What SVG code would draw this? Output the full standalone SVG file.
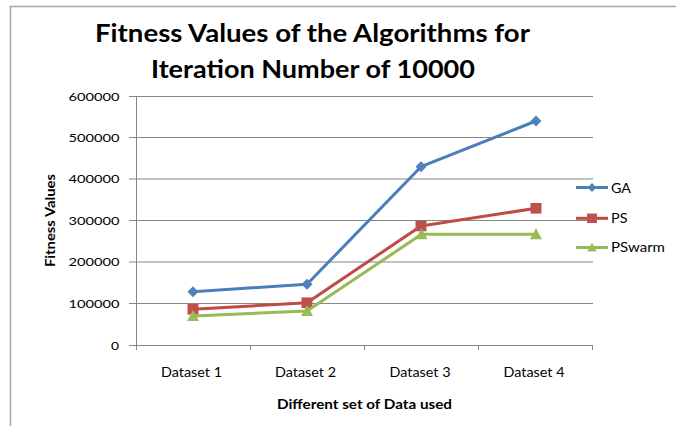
<svg xmlns="http://www.w3.org/2000/svg" width="676" height="426" viewBox="0 0 676 426">
  <style>
    text { font-family: Lato, "Open Sans", "Liberation Sans", sans-serif; fill: #000; }
    .title { font-size: 24px; font-weight: bold; }
    .tick { font-size: 12px; }
    .cat { font-size: 13px; }
    .axis-title { font-size: 13px; font-weight: bold; }
    .leg { font-size: 13px; }
    .grid { stroke: #868686; stroke-width: 1; fill: none; }
    .axis { stroke: #868686; stroke-width: 1; fill: none; }
    .frame { stroke: #a6a6a6; stroke-width: 1.5; fill: none; }
    .ga { stroke: #4a7ebb; stroke-width: 3; fill: none; stroke-linejoin: round; }
    .ps { stroke: #be4b48; stroke-width: 3; fill: none; stroke-linejoin: round; }
    .pw { stroke: #98b954; stroke-width: 3; fill: none; stroke-linejoin: round; }
  </style>
  <defs>
    <path id="diamond" d="M0,-5.5 L5.5,0 L0,5.5 L-5.5,0 Z" fill="#4f81bd"/>
    <rect id="square" x="-5.5" y="-5.3" width="11" height="10.6" fill="#c0504d"/>
    <path id="tri" d="M0,-6 L6,5 L-6,5 Z" fill="#9bbb59"/>
  </defs>

  <rect width="676" height="426" fill="#fff"/>

  <!-- chart frame (left and top edges) -->
  <path class="frame" d="M10.5,426 V6.5 H676"/>

  <!-- title -->
  <g id="title">
    <text class="title" x="95" y="41.5" textLength="435" lengthAdjust="spacingAndGlyphs">Fitness Values of the Algorithms for</text>
    <text class="title" x="151" y="77.5" textLength="324" lengthAdjust="spacingAndGlyphs">Iteration Number of 10000</text>
  </g>

  <!-- gridlines -->
  <g id="gridlines">
    <path class="grid" d="M136,96.5 H593 M136,137.5 H593 M136,179 H593 M136,220.5 H593 M136,262 H593 M136,303.5 H593"/>
  </g>

  <!-- axes and ticks -->
  <g id="axes">
    <path class="axis" d="M136.5,96 V350 M136,345.5 H593"/>
    <path class="axis" d="M129,96.5 H136 M129,137.5 H136 M129,179 H136 M129,220.5 H136 M129,262 H136 M129,303.5 H136 M129,345.5 H136"/>
    <path class="axis" d="M250.5,345 V350 M364.5,345 V350 M478.5,345 V350 M592.5,345 V350"/>
  </g>

  <!-- value axis labels -->
  <g id="y-labels" class="tick">
    <text class="tick" x="68.5" y="100.5" textLength="51" lengthAdjust="spacingAndGlyphs">600000</text>
    <text class="tick" x="68.5" y="141.8" textLength="51" lengthAdjust="spacingAndGlyphs">500000</text>
    <text class="tick" x="68.5" y="183.3" textLength="51" lengthAdjust="spacingAndGlyphs">400000</text>
    <text class="tick" x="68.5" y="224.8" textLength="51" lengthAdjust="spacingAndGlyphs">300000</text>
    <text class="tick" x="68.5" y="266.3" textLength="51" lengthAdjust="spacingAndGlyphs">200000</text>
    <text class="tick" x="68.5" y="307.8" textLength="51" lengthAdjust="spacingAndGlyphs">100000</text>
    <text class="tick" x="111" y="349.5" textLength="8" lengthAdjust="spacingAndGlyphs">0</text>
  </g>

  <!-- category axis labels -->
  <g id="x-labels">
    <text class="cat" x="161" y="376.5" textLength="61" lengthAdjust="spacingAndGlyphs">Dataset 1</text>
    <text class="cat" x="275" y="376.5" textLength="61" lengthAdjust="spacingAndGlyphs">Dataset 2</text>
    <text class="cat" x="389.5" y="376.5" textLength="61" lengthAdjust="spacingAndGlyphs">Dataset 3</text>
    <text class="cat" x="503.5" y="376.5" textLength="61" lengthAdjust="spacingAndGlyphs">Dataset 4</text>
  </g>

  <!-- axis titles -->
  <g id="axis-titles">
    <text class="axis-title" x="277" y="408.5" textLength="175" lengthAdjust="spacingAndGlyphs">Different set of Data used</text>
    <text class="axis-title" transform="translate(54.5,267) rotate(-90)" x="0" y="0" textLength="93" lengthAdjust="spacingAndGlyphs">Fitness Values</text>
  </g>

  <!-- data series -->
  <g id="series-ga">
    <polyline class="ga" points="193,291.7 307,284.3 421,166.7 536,121"/>
    <use href="#diamond" x="193" y="291.7"/>
    <use href="#diamond" x="307" y="284.3"/>
    <use href="#diamond" x="421" y="166.7"/>
    <use href="#diamond" x="536" y="121"/>
  </g>
  <g id="series-ps">
    <polyline class="ps" points="193,309.3 307,302.7 421,226 536,208.3"/>
    <use href="#square" x="193" y="309.3"/>
    <use href="#square" x="307" y="302.7"/>
    <use href="#square" x="421" y="226"/>
    <use href="#square" x="536" y="208.3"/>
  </g>
  <g id="series-pswarm">
    <polyline class="pw" points="193,316 307,311 421.5,234.3 536,234.3"/>
    <use href="#tri" x="193" y="316"/>
    <use href="#tri" x="307" y="311"/>
    <use href="#tri" x="421.5" y="234.3"/>
    <use href="#tri" x="536" y="234.3"/>
  </g>

  <!-- legend -->
  <g id="legend">
    <path class="ga" d="M576,187.5 H608"/>
    <use href="#diamond" x="592" y="187.5" transform="translate(592,187.5) scale(0.8) translate(-592,-187.5)"/>
    <text class="leg" x="611" y="193.3" textLength="20" lengthAdjust="spacingAndGlyphs">GA</text>
    <path class="ps" d="M576,218.3 H608"/>
    <use href="#square" x="592" y="218.3" transform="translate(592,218.3) scale(0.9) translate(-592,-218.3)"/>
    <text class="leg" x="611" y="223.3" textLength="16.5" lengthAdjust="spacingAndGlyphs">PS</text>
    <path class="pw" d="M576,247.5 H608"/>
    <use href="#tri" x="592" y="247.5" transform="translate(592,247.5) scale(0.8) translate(-592,-247.5)"/>
    <text class="leg" x="611" y="252.3" textLength="54" lengthAdjust="spacingAndGlyphs">PSwarm</text>
  </g>
</svg>
